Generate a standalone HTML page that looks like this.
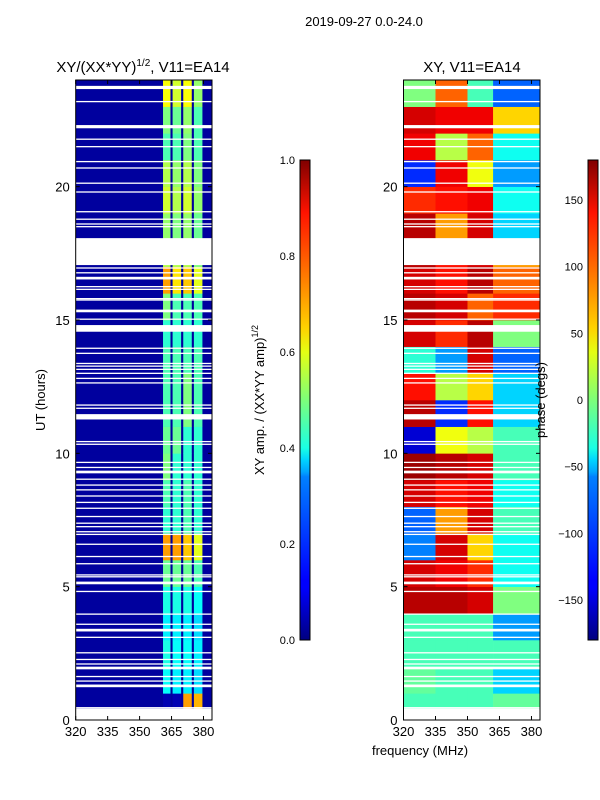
<!DOCTYPE html>
<html><head><meta charset="utf-8">
<style>
html,body{margin:0;padding:0;background:#fff;}
svg{display:block;font-family:"Liberation Sans","DejaVu Sans",sans-serif;}
</style></head>
<body>
<svg id="fig" width="600" height="800" viewBox="0 0 600 800" xmlns="http://www.w3.org/2000/svg">
<defs>
<linearGradient id="jet" x1="0" y1="1" x2="0" y2="0">
<stop offset="0" stop-color="#000080"/><stop offset="0.11" stop-color="#0000ff"/>
<stop offset="0.125" stop-color="#0000ff"/><stop offset="0.34" stop-color="#0080ff"/>
<stop offset="0.35" stop-color="#00a4ff"/><stop offset="0.375" stop-color="#00d4ff"/>
<stop offset="0.4" stop-color="#1affe4"/><stop offset="0.5" stop-color="#7dff7a"/>
<stop offset="0.6" stop-color="#e4ff13"/><stop offset="0.65" stop-color="#ffd200"/>
<stop offset="0.75" stop-color="#ff8000"/><stop offset="0.89" stop-color="#ff1300"/>
<stop offset="1" stop-color="#800000"/>
</linearGradient>
</defs>
<text x="364" y="26" font-size="13" text-anchor="middle">2019-09-27 0.0-24.0</text>
<text x="143" y="72" font-size="15" text-anchor="middle">XY/(XX*YY)<tspan font-size="10" dy="-6">1/2</tspan><tspan dy="6">, V11=EA14</tspan></text>
<text x="472" y="72" font-size="15" text-anchor="middle">XY, V11=EA14</text>
<g id="ampPanel"></g>
<g id="phasePanel"></g>
<g id="axes"></g>
<rect x="300" y="160" width="10" height="480" fill="url(#jet)" stroke="#000" stroke-width="1"/>
<rect x="588" y="160" width="10" height="480" fill="url(#jet)" stroke="#000" stroke-width="1"/>
<text transform="translate(45,400) rotate(-90)" font-size="13" text-anchor="middle">UT (hours)</text>
<text transform="translate(264,400) rotate(-90)" font-size="13" text-anchor="middle">XY amp. / (XX*YY amp)<tspan font-size="9" dy="-6">1/2</tspan></text>
<text transform="translate(545,400) rotate(-90)" font-size="13" text-anchor="middle">phase (degs)</text>
<text x="420" y="755" font-size="13" text-anchor="middle">frequency (MHz)</text>
</svg>
<script>
// ---- data ----
const hours = [0,1,2,3,4,5,6,7,8,9,10,11,12,13,14,15,16,17,18,19,20,21,22,23];
const bandLo = [361,365.5,370.5,375.5];
const bandHi = [364.5,369.5,374.5,379.5];
const ampBandA = [0.05,0.38,0.4,0.36,0.4,0.48,0.72,0.42,0.45,0.5,0.48,0.45,0.45,0.45,0.42,0.5,0.72,0.55,0.52,0.58,0.55,0.45,0.5,0.62];
const ampBandB = [0.05,0.36,0.38,0.36,0.4,0.48,0.72,0.42,0.42,0.42,0.48,0.45,0.45,0.45,0.42,0.45,0.65,0.55,0.5,0.55,0.52,0.45,0.48,0.58];
const ampBandC = [0.72,0.36,0.38,0.36,0.4,0.48,0.68,0.45,0.45,0.42,0.42,0.5,0.5,0.45,0.42,0.45,0.68,0.55,0.52,0.58,0.55,0.5,0.52,0.62];
const ampBandD = [0.7,0.34,0.36,0.34,0.38,0.45,0.6,0.42,0.42,0.42,0.42,0.45,0.45,0.45,0.42,0.45,0.6,0.5,0.48,0.52,0.5,0.45,0.45,0.52];
const ampBackground = 0.03;
const phaseEdges = [320,335,350,362,384];
const phaseR1 = [-20,-10,-20,-20,160,150,-90,-100,150,170,-150,160,130,-30,150,160,150,160,160,120,-120,140,150,0];
const phaseR2 = [-20,-20,-20,-20,160,140,150,80,130,160,40,-120,20,-80,120,150,130,130,80,130,140,20,140,100];
const phaseR3 = [-20,-20,-20,-20,150,120,60,150,140,150,20,130,60,150,160,100,160,150,150,140,40,100,140,-20];
const phaseR4 = [-10,-60,-20,-80,0,-40,-40,-20,-40,-20,-20,-60,-60,-100,0,120,100,80,-60,-40,-80,-40,60,-100];
const gapStart = [0,17.06,14.56,11.27,23.66,22.19,16.52,15.29,9.25,5.09,3.32,1.9,1.23];
const gapEnd   = [0.43,18.07,14.81,11.47,23.78,22.31,16.62,15.39,9.35,5.19,3.42,2.0,1.33];
const thinGaps = [23.19,21.78,21.5,20.94,20.7,20.13,19.8,19.06,18.78,18.6,18.5,16.95,16.77,16.25,16.15,15.8,15.75,15.03,13.94,13.75,13.37,13.27,13.15,13.0,12.81,12.64,11.81,11.69,10.44,10.34,9.66,9.47,9.03,8.81,8.63,8.4,8.16,7.94,7.63,7.38,7.25,7.06,6.96,6.59,6.13,5.86,5.44,5.37,4.82,3.97,3.59,3.1,2.52,2.27,2.1,1.63,1.46,0.46];
const xTicks = [320,335,350,365,380];
const yTicks = [0,5,10,15,20];
const ampCbTicks = ["0.0","0.2","0.4","0.6","0.8","1.0"];
const phaseCbTicks = [-150,-100,-50,0,50,100,150];

// ---- helpers ----
const NS="http://www.w3.org/2000/svg";
const fMin=320,fMax=384,tMin=0,tMax=24,yTop=80,yBot=720;
function yS(t){return yBot-(t-tMin)/(tMax-tMin)*(yBot-yTop);}
function xS(x0,x1,f){return x0+(f-fMin)/(fMax-fMin)*(x1-x0);}
function jet(v){v=Math.max(0,Math.min(1,v));
 const c=x=>Math.max(0,Math.min(1,x));
 const r=c(Math.min(4*v-1.5,-4*v+4.5)),g=c(Math.min(4*v-0.5,-4*v+3.5)),b=c(Math.min(4*v+0.5,-4*v+2.5));
 return `rgb(${Math.round(r*255)},${Math.round(g*255)},${Math.round(b*255)})`;}
function mk(tag,parent,at){const e=document.createElementNS(NS,tag);for(const k in at)e.setAttribute(k,at[k]);parent.appendChild(e);return e;}

const ampBands=[ampBandA,ampBandB,ampBandC,ampBandD];
const phaseRegions=[phaseR1,phaseR2,phaseR3,phaseR4];
const PL={x0:75.7,x1:212},PR={x0:403.5,x1:540};

// amplitude panel
const ap=document.getElementById('ampPanel');
const bg=mk('rect',ap,{x:PL.x0,y:yTop,width:PL.x1-PL.x0,height:yBot-yTop,fill:jet(ampBackground)});


hours.forEach((h,i)=>{
 ampBands.forEach((arr,b)=>{
  const x=xS(PL.x0,PL.x1,bandLo[b]),w=xS(PL.x0,PL.x1,bandHi[b])-x;
  const r=mk('rect',ap,{x:x,y:yS(h+1),width:w,height:yS(h)-yS(h+1)+0.3,fill:jet(arr[i])});
  
  
 });
});
// phase panel
const pp=document.getElementById('phasePanel');
hours.forEach((h,i)=>{
 phaseRegions.forEach((arr,k)=>{
  const x=xS(PR.x0,PR.x1,phaseEdges[k]),w=xS(PR.x0,PR.x1,phaseEdges[k+1])-x;
  const r=mk('rect',pp,{x:x,y:yS(h+1),width:w+0.3,height:yS(h)-yS(h+1)+0.3,fill:jet((arr[i]+180)/360)});
  
  
 });
});
// flagged gaps
[[ap,PL],[pp,PR]].forEach(([g,P])=>{
 gapStart.forEach((s,i)=>{
  const r=mk('rect',g,{x:P.x0,y:yS(gapEnd[i]),width:P.x1-P.x0,height:yS(s)-yS(gapEnd[i]),fill:'#fff'});
  
  
 });
 thinGaps.forEach(t=>{
  const r=mk('rect',g,{x:P.x0,y:yS(t)-0.65,width:P.x1-P.x0,height:1.3,fill:'#fff'});
  
  
 });
});
// axes
const ax=document.getElementById('axes');
[PL,PR].forEach((P,pi)=>{
 const f=mk('rect',ax,{x:P.x0,y:yTop,width:P.x1-P.x0,height:yBot-yTop,fill:'none',stroke:'#000','stroke-width':1});
 
 
 xTicks.forEach(v=>{
  const x=xS(P.x0,P.x1,v);
  mk('line',ax,{x1:x,y1:yBot,x2:x,y2:yBot-4,stroke:'#000'});
  mk('line',ax,{x1:x,y1:yTop,x2:x,y2:yTop+4,stroke:'#000'});
  const t=mk('text',ax,{x:x,y:yBot+16,'font-size':13,'text-anchor':'middle'});t.textContent=v;
  
  
 });
 yTicks.forEach(v=>{
  const y=yS(v);
  mk('line',ax,{x1:P.x0,y1:y,x2:P.x0+4,y2:y,stroke:'#000'});
  mk('line',ax,{x1:P.x1,y1:y,x2:P.x1-4,y2:y,stroke:'#000'});
  const t=mk('text',ax,{x:P.x0-6,y:y+5,'font-size':13,'text-anchor':'end'});t.textContent=v;
  
  
 });
});
ampCbTicks.forEach((s,i)=>{
 const y=640-parseFloat(s)*480;
 mk('line',ax,{x1:300,y1:y,x2:304,y2:y,stroke:'#000'});
 mk('line',ax,{x1:310,y1:y,x2:306,y2:y,stroke:'#000'});
 const t=mk('text',ax,{x:295,y:y+4,'font-size':11,'text-anchor':'end'});t.textContent=s;
 
 
});
phaseCbTicks.forEach(v=>{
 const y=640-(v+180)/360*480;
 mk('line',ax,{x1:588,y1:y,x2:592,y2:y,stroke:'#000'});
 mk('line',ax,{x1:598,y1:y,x2:594,y2:y,stroke:'#000'});
 const t=mk('text',ax,{x:583,y:y+4,'font-size':11,'text-anchor':'end'});t.textContent=(v<0?'\u2212'+(-v):v);
 
 
});
</script>
</body></html>
